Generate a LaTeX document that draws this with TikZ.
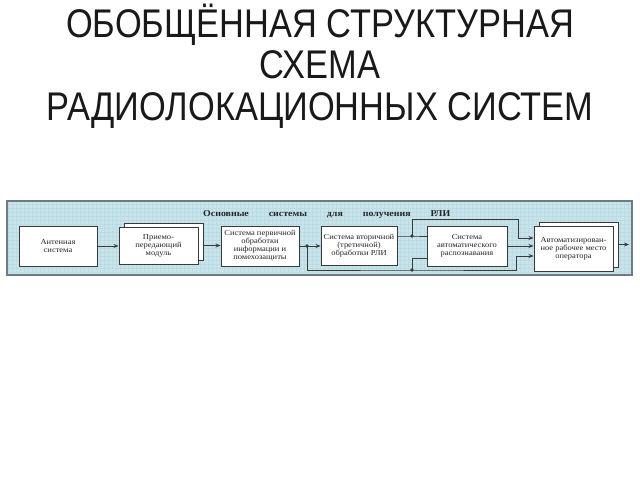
\documentclass[tikz,border=0pt]{standalone}
\usepackage{fontspec}
\setmainfont{Liberation Serif}
\newfontfamily\titlefont[FakeStretch=0.86]{Liberation Sans}
\newfontfamily\blockfont[FakeStretch=1.1]{Liberation Serif}
\usetikzlibrary{arrows.meta,shadows}
\definecolor{panelfill}{HTML}{C8E4EA}
\definecolor{panelgrid}{HTML}{BCDCE3}
\definecolor{panelline}{HTML}{6E7B80}
\definecolor{blockline}{HTML}{3A3A3A}

\begin{document}
\begin{tikzpicture}
[x=1pt,y=-1pt,
  titleLine/.style={anchor=base,inner sep=0pt,text=black!90,font=\titlefont\fontsize{40}{41}\selectfont},%
  blockDecorate/.style={draw=blockline,fill=white,line width=0.9pt,align=center,inner sep=1pt,
    text=black!85,font=\blockfont\fontsize{7.7}{8}\selectfont},%
  stackDecorate/.style={blockDecorate,copy shadow={shadow xshift=5pt,shadow yshift=4pt,draw=blockline,fill=white}},%
  lineDecorate/.style={draw=blockline,line width=0.9pt},%
  arrowDecorate/.style={lineDecorate,-{Stealth[length=5pt,width=4pt]}}]
\useasboundingbox (0,0) rectangle (640,480);
%% title
\node (t1) [titleLine] at (320,37) {ОБОБЩЁННАЯ СТРУКТУРНАЯ};
\node (t2) [titleLine] at (320,78) {СХЕМА};
\node (t3) [titleLine] at (320,120) {РАДИОЛОКАЦИОННЫХ СИСТЕМ};
%% panel
\fill[panelfill] (7,201) rectangle (632,275);
\draw[panelgrid,line width=0.25pt,step=4pt] (7,201) grid (632,275);
\draw[panelline,line width=1.4pt] (7,201) rectangle (632,275);
\node (head) [anchor=base west,inner sep=0pt,text=black!85,font=\blockfont\bfseries\fontsize{9}{9}\selectfont]
  at (203,216) {\makebox[247pt][s]{Основные\hfill системы\hfill для\hfill получения\hfill РЛИ}};
%% nodes or vertices
\node (ant) [blockDecorate,minimum width=78,minimum height=40] at (58,246) {Антенная\\система};
\node (prm) [stackDecorate,minimum width=79,minimum height=37] at (158.5,245.5) {Приемо-\\передающий\\модуль};
\node (pri) [blockDecorate,minimum width=78,minimum height=40] at (260,246) {Система первичной\\обработки\\информации и\\помехозащиты};
\node (sec) [blockDecorate,minimum width=76,minimum height=39] at (359,245.5) {Система вторичной\\(третичной)\\обработки РЛИ};
\node (rec) [blockDecorate,minimum width=80,minimum height=40] at (467,246) {Система\\автоматического\\распознавания};
\node (arm) [stackDecorate,minimum width=79,minimum height=45] at (573.5,248.5) {Автоматизирован-\\ное рабочее место\\оператора};
%% branch points
\coordinate (j1) at (307,246);
\coordinate (j2) at (412,270);
\coordinate (j3) at (412,236);
\coordinate (up) at (518,219);
\coordinate (dn) at (516,270);
\coordinate (out) at (629,244.5);
%% edges or lines
\draw[arrowDecorate] (ant.east) -- (ant.east -| prm.west);
\draw[arrowDecorate] ([xshift=5pt]prm.east) -- (prm.east -| pri.west);
\draw[arrowDecorate] (pri.east) -- (pri.east -| sec.west);
\draw[lineDecorate] (sec.east |- j3) -- (j3) -- (j3 -| rec.west);
\draw[arrowDecorate] (j3) |- (up) |- (arm.west |- 0,238);
\draw[arrowDecorate] (j1) |- (j2) -- (dn) |- (arm.west |- 0,256);
\draw[lineDecorate] (j2) |- (rec.west |- 0,258);
\draw[arrowDecorate] (rec.east) -- (rec.east -| arm.west);
\draw[arrowDecorate] ([shift={(5pt,4pt)}]arm.east) -- (out);
\foreach \dotname in {j1,j2,j3}
  \fill[blockline] (\dotname) circle[radius=1.9];
\end{tikzpicture}
\end{document}
